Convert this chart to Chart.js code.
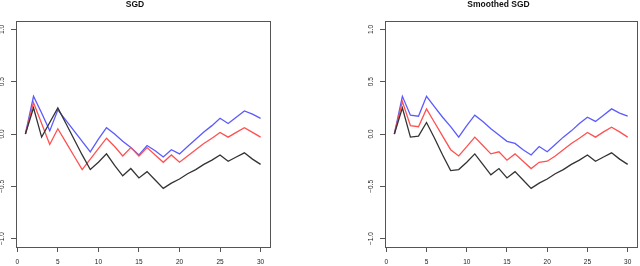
<!DOCTYPE html>
<html>
<head>
<meta charset="utf-8">
<script src="https://cdn.jsdelivr.net/npm/chart.js@4/dist/chart.umd.min.js"></script>
<style>
  html, body { margin: 0; padding: 0; background: #fff; overflow: hidden; width: 640px; height: 266px; }
  .panel { position: absolute; top: 0; height: 266px; }
  #left { left: 0; width: 286px; }
  #right { left: 360px; width: 302px; }
</style>
</head>
<body>
<div class="panel" id="left"><canvas id="chart-sgd"></canvas></div>
<div class="panel" id="right"><canvas id="chart-smoothed"></canvas></div>
<script>
// iterations 1..30
const iterations = [1, 2, 3, 4, 5, 6, 7, 8, 9, 10, 11, 12, 13, 14, 15, 16, 17, 18, 19, 20, 21, 22, 23, 24, 25, 26, 27, 28, 29, 30];
const xTicks = [0, 5, 10, 15, 20, 25, 30];
const yTicks = [-1, -0.5, 0, 0.5, 1];

// SGD panel
const sgdBlue = [0, 0.36, 0.2, 0.03, 0.23, 0.13, 0.03, -0.07, -0.17, -0.05, 0.06, 0.0, -0.07, -0.13, -0.2, -0.11, -0.16, -0.22, -0.15, -0.19, -0.12, -0.05, 0.02, 0.08, 0.15, 0.10, 0.16, 0.22, 0.19, 0.15];
const sgdRed = [0, 0.30, 0.10, -0.10, 0.05, -0.08, -0.21, -0.34, -0.24, -0.14, -0.04, -0.12, -0.21, -0.13, -0.21, -0.13, -0.20, -0.27, -0.20, -0.27, -0.21, -0.15, -0.09, -0.04, 0.015, -0.03, 0.015, 0.06, 0.015, -0.03];
const sgdBlack = [0, 0.25, -0.03, 0.11, 0.25, 0.10, -0.05, -0.20, -0.34, -0.27, -0.19, -0.30, -0.40, -0.33, -0.42, -0.36, -0.44, -0.52, -0.47, -0.43, -0.38, -0.34, -0.29, -0.25, -0.2, -0.26, -0.22, -0.18, -0.24, -0.29];

// Smoothed SGD panel
const smoothBlue = [0, 0.36, 0.18, 0.17, 0.36, 0.26, 0.16, 0.07, -0.03, 0.08, 0.18, 0.12, 0.05, -0.01, -0.07, -0.09, -0.15, -0.2, -0.12, -0.17, -0.10, -0.03, 0.03, 0.10, 0.16, 0.12, 0.18, 0.24, 0.2, 0.17];
const smoothRed = [0, 0.31, 0.08, 0.07, 0.24, 0.11, -0.02, -0.15, -0.21, -0.12, -0.03, -0.11, -0.19, -0.17, -0.25, -0.19, -0.26, -0.33, -0.27, -0.26, -0.21, -0.15, -0.09, -0.04, 0.015, -0.03, 0.02, 0.065, 0.02, -0.03];
const smoothBlack = [0, 0.25, -0.03, -0.02, 0.11, -0.04, -0.2, -0.35, -0.34, -0.27, -0.19, -0.29, -0.39, -0.33, -0.42, -0.36, -0.44, -0.52, -0.47, -0.43, -0.38, -0.34, -0.29, -0.25, -0.2, -0.26, -0.22, -0.18, -0.24, -0.29];

const FONT = "'Liberation Sans', Arial, Helvetica, sans-serif";
const AXIS = '#555';
const COLORS = { blue: '#5a5aff', red: '#ff5050', black: '#333333' };

const boxPlugin = {
  id: 'box',
  afterDraw(chart) {
    const { ctx, chartArea: a } = chart;
    ctx.save();
    ctx.strokeStyle = AXIS;
    ctx.lineWidth = 1;
    ctx.strokeRect(Math.round(a.left) + 0.5, Math.round(a.top) + 0.5, Math.round(a.right - a.left), Math.round(a.bottom - a.top));
    ctx.restore();
  },
};

function toPoints(vals) {
  return iterations.map((x, i) => ({ x, y: vals[i] }));
}

function line(vals, color) {
  return {
    data: toPoints(vals),
    borderColor: color,
    borderWidth: 1.3,
    pointRadius: 0,
    tension: 0,
    fill: false,
  };
}

function makeChart(canvas, title, blue, red, black, yWidth, rightPad) {
  return new Chart(canvas, {
    type: 'line',
    data: {
      datasets: [line(black, COLORS.black), line(red, COLORS.red), line(blue, COLORS.blue)],
    },
    options: {
      responsive: true,
      maintainAspectRatio: false,
      animation: false,
      layout: { padding: { left: 0, right: rightPad, top: 0, bottom: 0 } },
      scales: {
        x: {
          type: 'linear',
          min: -0.16,
          max: 31.16,
          afterBuildTicks: (s) => { s.ticks = xTicks.map((v) => ({ value: v })); },
          afterFit: (s) => { s.height = 19; },
          grid: { drawOnChartArea: false, tickLength: 5, color: AXIS },
          border: { color: AXIS },
          ticks: { autoSkip: false, maxRotation: 0, padding: 6.5, color: '#222', font: { family: FONT, size: 6.5 } },
        },
        y: {
          min: -1.08,
          max: 1.08,
          afterBuildTicks: (s) => { s.ticks = yTicks.map((v) => ({ value: v })); },
          afterFit: (s) => { s.width = yWidth; },
          grid: { drawOnChartArea: false, tickLength: 5, color: AXIS },
          border: { color: AXIS },
          ticks: {
            minRotation: 90,
            maxRotation: 90,
            crossAlign: 'center',
            padding: 2.5,
            color: '#222',
            font: { family: FONT, size: 6.5 },
            callback: (v) => v.toFixed(1).replace('-', '\u2212'),
          },
        },
      },
      plugins: {
        legend: { display: false },
        tooltip: { enabled: false },
        title: {
          display: true,
          text: title,
          color: '#111',
          font: { family: FONT, size: 8.5, weight: 'bold' },
          padding: { top: 0, bottom: 10.8 },
        },
      },
    },
    plugins: [boxPlugin],
  });
}

makeChart(document.getElementById('chart-sgd'), 'SGD', sgdBlue, sgdRed, sgdBlack, 16, 16);
makeChart(document.getElementById('chart-smoothed'), 'Smoothed SGD', smoothBlue, smoothRed, smoothBlack, 25, 25);
</script>
</body>
</html>
